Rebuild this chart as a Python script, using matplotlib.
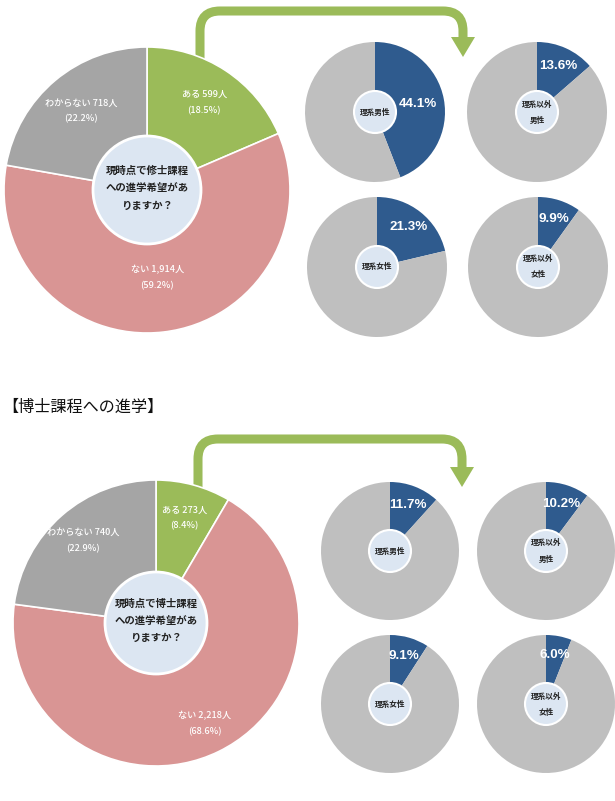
import numpy as np
import matplotlib
matplotlib.use('agg')
import matplotlib.pyplot as plt
from matplotlib.path import Path
from matplotlib.patches import PathPatch, Polygon, Circle

plt.rcParams['font.family'] = ['Noto Sans CJK JP', 'DejaVu Sans']

W, H = 615, 801

# main question: ある / ない / わからない
main_labels = ['ある', 'ない', 'わからない']
master_counts = [599, 1914, 718]
master_pcts = [18.5, 59.2, 22.2]
doctor_counts = [273, 2218, 740]
doctor_pcts = [8.4, 68.6, 22.9]

# "ある" share per group
group_names = ['理系男性', '理系以外\n男性', '理系女性', '理系以外\n女性']
master_group_pcts = [44.1, 13.6, 21.3, 9.9]
doctor_group_pcts = [11.7, 10.2, 9.1, 6.0]

center_master = '現時点で修士課程\nへの進学希望があ\nりますか？'
center_doctor = '現時点で博士課程\nへの進学希望があ\nりますか？'
section_title = '【博士課程への進学】'

main_colors = ['#9bbb59', '#d99594', '#a5a5a5']
blue, grey = '#2f5b8e', '#bfbfbf'
inner_fill = '#dce6f2'
arrow_green = '#9bbb59'


def Y(py):
    return H - py


def inner_circle(ax, cx, cy, r, lw=2):
    ax.add_patch(Circle((cx, Y(cy)), r, facecolor=inner_fill,
                        edgecolor='white', linewidth=lw, zorder=5))


def wedge_point(w, frac):
    ang = np.deg2rad((w.theta1 + w.theta2) / 2)
    return (w.center[0] + frac * w.r * np.cos(ang),
            w.center[1] + frac * w.r * np.sin(ang))


def main_pie(ax, cx, cy, counts, pcts, dists, question, inner_r):
    wedges, _ = ax.pie(counts, colors=main_colors, startangle=90,
                       counterclock=False, center=(cx, Y(cy)), radius=143,
                       frame=True,
                       wedgeprops=dict(edgecolor='white', linewidth=1.2))
    for w, lbl, n, p, d in zip(wedges, main_labels, counts, pcts, dists):
        x, y = wedge_point(w, d)
        ax.text(x, y, '{0} {1:,}人\n({2}%)'.format(lbl, n, p),
                ha='center', va='center', color='white', fontsize=6.6,
                fontweight='medium', linespacing=2.0, zorder=6)
    inner_circle(ax, cx, cy, inner_r)
    ax.text(cx, Y(cy) + 2, question, ha='center', va='center',
            fontsize=7.5, fontweight='bold', color='#222222',
            linespacing=1.9, zorder=6)


def small_pie(ax, cx, cy, pct, name, r=70):
    wedges, _ = ax.pie([pct, 100 - pct], colors=[blue, grey], startangle=90,
                       counterclock=False, center=(cx, Y(cy)), radius=r,
                       frame=True, wedgeprops=dict(linewidth=0))
    x, y = wedge_point(wedges[0], 0.72)
    if pct > 30:
        x, y = wedge_point(wedges[0], 0.62)
    ax.text(x, y, '{0:.1f}%'.format(pct), ha='center', va='center',
            color='white', fontsize=9.6, fontweight='bold', zorder=6,
            family=['Liberation Sans', 'DejaVu Sans'])
    inner_circle(ax, cx, cy, 21, lw=1.5)
    ax.text(cx, Y(cy), name, ha='center', va='center', fontsize=5.5,
            fontweight='bold', color='#222222', linespacing=2.0, zorder=6)


def bent_arrow(ax, x0, y_start, y_top, x1, y_head):
    rad = 20
    verts = [(x0, Y(y_start)), (x0, Y(y_top + rad)), (x0, Y(y_top)),
             (x0 + rad, Y(y_top)), (x1 - rad, Y(y_top)), (x1, Y(y_top)),
             (x1, Y(y_top + rad)), (x1, Y(y_head - 14))]
    codes = [Path.MOVETO, Path.LINETO, Path.CURVE3, Path.CURVE3,
             Path.LINETO, Path.CURVE3, Path.CURVE3, Path.LINETO]
    ax.add_patch(PathPatch(Path(verts, codes), facecolor='none',
                           edgecolor=arrow_green, linewidth=6.5,
                           capstyle='butt', zorder=1))
    ax.add_patch(Polygon([(x1 - 12, Y(y_head - 20)), (x1 + 12, Y(y_head - 20)),
                          (x1, Y(y_head))], closed=True,
                         facecolor=arrow_green, edgecolor='none', zorder=1))


fig = plt.figure(figsize=(W / 100, H / 100), dpi=100)
ax = fig.add_axes([0, 0, 1, 1])

# upper block (master's)
bent_arrow(ax, 200, 60, 11, 463, 57)
main_pie(ax, 147, 190, master_counts, master_pcts, [0.73, 0.62, 0.72],
         center_master, 54)
small_pos_top = [(375, 112), (537, 112), (377, 267), (538, 267)]
for (cx, cy), p, nm in zip(small_pos_top, master_group_pcts, group_names):
    small_pie(ax, cx, cy, p, nm)

# section title
ax.text(2, Y(407), section_title, ha='left', va='center', fontsize=11.6,
        color='#111111')

# lower block (doctor's)
bent_arrow(ax, 198, 490, 439, 462, 487)
main_pie(ax, 156, 623, doctor_counts, doctor_pcts, [0.76, 0.78, 0.77],
         center_doctor, 51)
small_pos_bot = [(390, 551), (546, 551), (390, 704), (546, 704)]
for (cx, cy), p, nm in zip(small_pos_bot, doctor_group_pcts, group_names):
    small_pie(ax, cx, cy, p, nm, r=69)

ax.set_xlim(0, W)
ax.set_ylim(0, H)
ax.set_aspect('equal')
ax.axis('off')

plt.savefig('out.png', dpi=100)
plt.close()
